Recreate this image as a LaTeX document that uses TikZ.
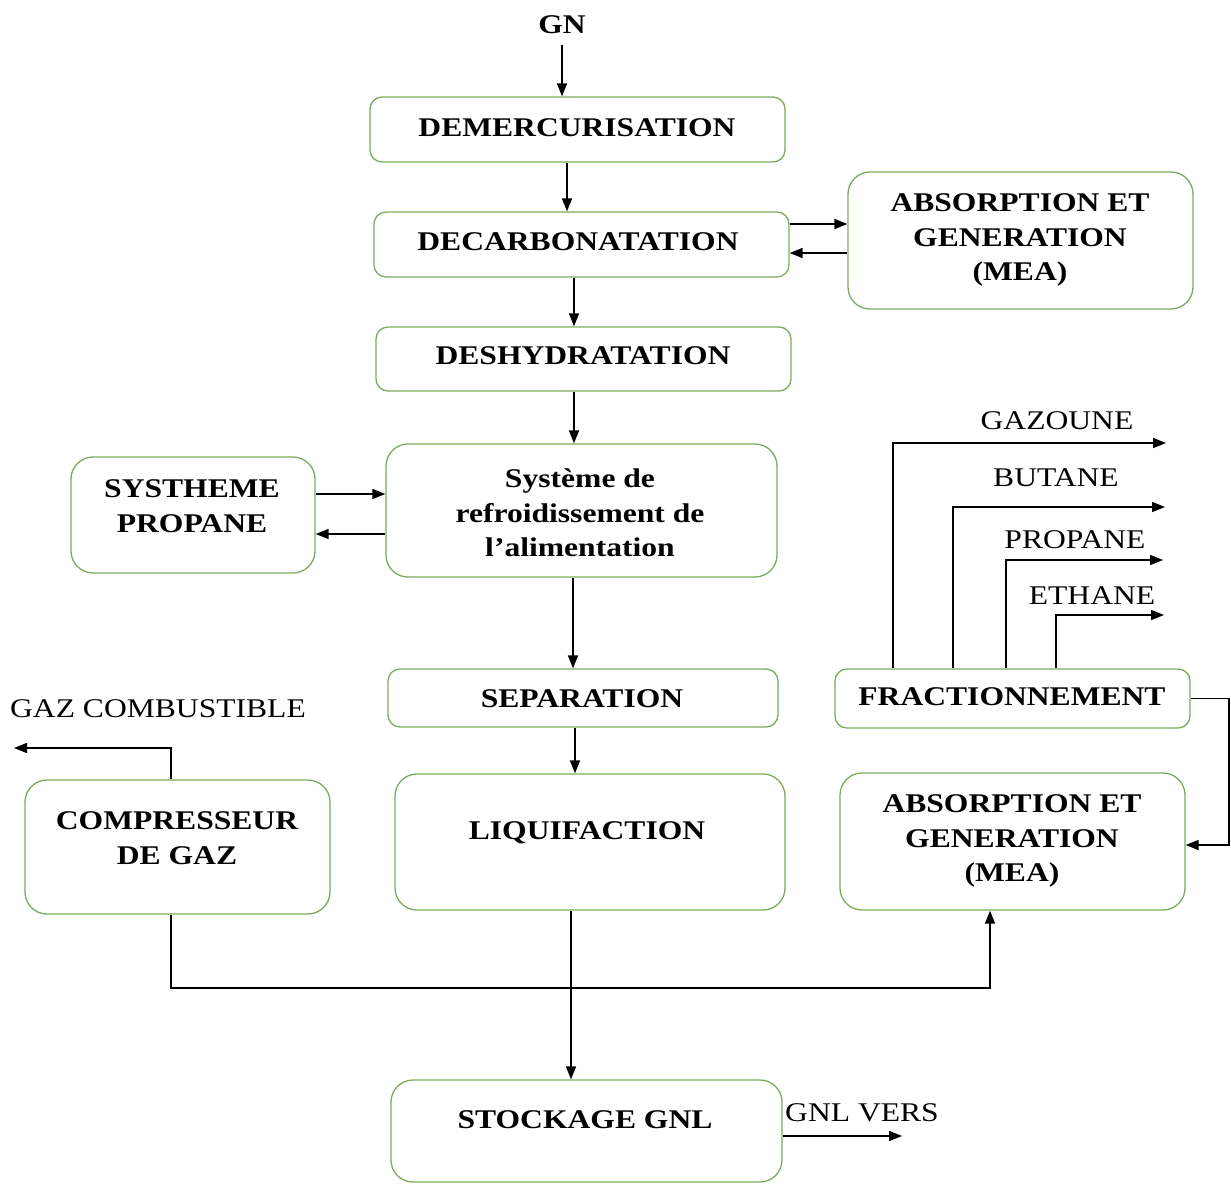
\documentclass[tikz,border=0pt]{standalone}
\usepackage{fontspec}
\setmainfont[FakeStretch=1.17]{Liberation Serif}
\usetikzlibrary{arrows.meta}
\definecolor{boxgreen}{RGB}{125,170,95}
\begin{document}
\begin{tikzpicture}[x=1pt,y=-1pt,
  box/.style={draw=boxgreen, line width=1.3pt, rounded corners=12pt, fill=white, inner sep=0pt},
  lbl/.style={font=\fontsize{27}{34.5}\selectfont\bfseries, align=center, inner sep=0pt},
  plain/.style={font=\fontsize{27}{32}\selectfont, inner sep=0pt},
  arr/.style={line width=1.6pt, -{Triangle[length=13pt,width=10pt]}},
  ln/.style={line width=1.6pt}]
\fill[white] (0,0) rectangle (1231,1183);
\useasboundingbox (0,0) rectangle (1231,1183);

% boxes
\node[box, minimum width=415pt, minimum height=65pt] (demer) at (577.5,129.5) {};
\node[box, minimum width=415pt, minimum height=65pt] (decarb) at (581.5,244.5) {};
\node[box, minimum width=345pt, minimum height=137pt, rounded corners=22pt] (abs1) at (1020.5,240.5) {};
\node[box, minimum width=415pt, minimum height=64pt] (deshy) at (583.5,359) {};
\node[box, minimum width=391pt, minimum height=133pt, rounded corners=22pt] (sys) at (581.5,510.5) {};
\node[box, minimum width=244pt, minimum height=116pt, rounded corners=22pt] (prop) at (193,515) {};
\node[box, minimum width=390pt, minimum height=58pt] (sep) at (583,698) {};
\node[box, minimum width=390pt, minimum height=136pt, rounded corners=22pt] (liq) at (590,842) {};
\node[box, minimum width=305pt, minimum height=134pt, rounded corners=22pt] (comp) at (177.5,847) {};
\node[box, minimum width=355pt, minimum height=59pt] (frac) at (1012.5,698.5) {};
\node[box, minimum width=345pt, minimum height=137pt, rounded corners=22pt] (abs2) at (1012.5,841.5) {};
\node[box, minimum width=391pt, minimum height=102pt, rounded corners=22pt] (stock) at (586.5,1131) {};

% texts
\node[lbl] (tgn) at (562,25) {GN};
\node[lbl] (tdemer) at (577,128) {DEMERCURISATION};
\node[lbl] (tdecarb) at (578,242) {DECARBONATATION};
\node[lbl] (tabs1) at (1020,240) {ABSORPTION ET\\GENERATION\\(MEA)};
\node[lbl] (tdeshy) at (583,356) {DESHYDRATATION};
\node[lbl] (tsys) at (580,513) {Système de\\refroidissement de\\l’alimentation};
\node[lbl] (tprop) at (192,506) {SYSTHEME\\PROPANE};
\node[lbl] (tsep) at (582,699) {SEPARATION};
\node[lbl] (tliq) at (587,833) {LIQUIFACTION};
\node[lbl] (tcomp) at (177,838) {COMPRESSEUR\\DE GAZ};
\node[lbl] (tfrac) at (1012,697) {FRACTIONNEMENT};
\node[lbl] (tabs2) at (1012,841) {ABSORPTION ET\\GENERATION\\(MEA)};
\node[lbl] (tstock) at (585,1120) {STOCKAGE GNL};
\node[plain] (tgc) at (158,709) {GAZ COMBUSTIBLE};
\node[plain] (tgaz) at (1057,421) {GAZOUNE};
\node[plain] (tbut) at (1056,478) {BUTANE};
\node[plain] (tpro) at (1075,540) {PROPANE};
\node[plain] (teth) at (1092,596) {ETHANE};
\node[plain] (tgnl) at (862,1113) {GNL VERS};

% coordinates
\coordinate (gnA) at (562,45);
\coordinate (c1) at (567,0);
\coordinate (c2) at (574,0);
\coordinate (c3) at (573,0);
\coordinate (c4) at (575,0);
\coordinate (c5) at (571,0);
\coordinate (r1) at (0,224);
\coordinate (r2) at (0,253);
\coordinate (p1) at (0,494);
\coordinate (p2) at (0,534);
\coordinate (cx) at (171,0);
\coordinate (gcEnd) at (14,748);
\coordinate (bend) at (990,988);
\coordinate (fr2) at (1229,845);
\coordinate (g1) at (893,443);  \coordinate (g1e) at (1166,443);
\coordinate (g2) at (953,507);  \coordinate (g2e) at (1165,507);
\coordinate (g3) at (1006,560); \coordinate (g3e) at (1163,560);
\coordinate (g4) at (1056,615); \coordinate (g4e) at (1164,615);
\coordinate (gv) at (902,1136);

% connectors
\draw[arr] (gnA) -- (gnA |- demer.north);
\draw[arr] (c1 |- demer.south) -- (c1 |- decarb.north);
\draw[arr] (decarb.east |- r1) -- (abs1.west |- r1);
\draw[arr] (abs1.west |- r2) -- (decarb.east |- r2);
\draw[arr] (c2 |- decarb.south) -- (c2 |- deshy.north);
\draw[arr] (c2 |- deshy.south) -- (c2 |- sys.north);
\draw[arr] (prop.east |- p1) -- (sys.west |- p1);
\draw[arr] (sys.west |- p2) -- (prop.east |- p2);
\draw[arr] (c3 |- sys.south) -- (c3 |- sep.north);
\draw[arr] (c4 |- sep.south) -- (c4 |- liq.north);
\draw[arr] (c5 |- liq.south) -- (c5 |- stock.north);
\draw[arr] (cx |- comp.north) |- (gcEnd);
\draw[arr] (cx |- comp.south) |- (bend) -- (bend |- abs2.south);
\draw[arr] (frac.east) -| (fr2) -- (abs2.east |- fr2);
\draw[arr] (g1 |- frac.north) -- (g1) -- (g1e);
\draw[arr] (g2 |- frac.north) -- (g2) -- (g2e);
\draw[arr] (g3 |- frac.north) -- (g3) -- (g3e);
\draw[arr] (g4 |- frac.north) -- (g4) -- (g4e);
\draw[arr] (stock.east |- gv) -- (gv);
\end{tikzpicture}
\end{document}
